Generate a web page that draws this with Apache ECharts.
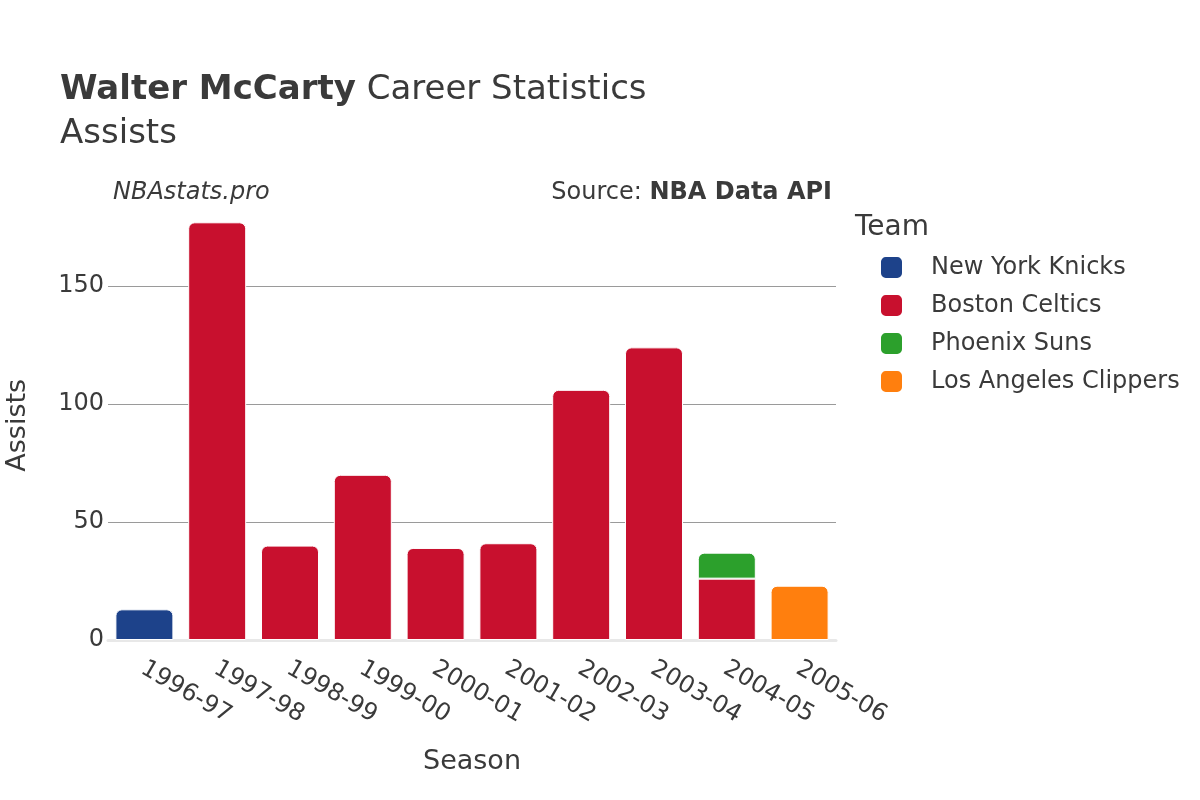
<!DOCTYPE html>
<html><head><meta charset="utf-8">
<script src="https://cdn.jsdelivr.net/npm/echarts@6/dist/echarts.min.js"></script>
<style>html,body{margin:0;padding:0;background:#fff}#c{width:1200px;height:800px}</style>
</head><body><div id="c"></div>
<script>
const seasons = ['1996-97','1997-98','1998-99','1999-00','2000-01','2001-02','2002-03','2003-04','2004-05','2005-06'];
const knicks   = [13, null, null, null, null, null, null, null, null, null];
const celtics  = [null, 177, 40, 70, 39, 41, 106, 124, 26, null];
const suns     = [null, null, null, null, null, null, null, null, 11, null];
const clippers = [null, null, null, null, null, null, null, null, null, 23];
const teamNames = ['New York Knicks','Boston Celtics','Phoenix Suns','Los Angeles Clippers'];
const teamColors = ['#1d428a','#c8102e','#2ca02c','#ff7f0e'];
const yTicks = [0, 50, 100, 150];

const font = 'DejaVu Sans';
const txt = '#3a3a3a';
const chart = echarts.init(document.getElementById('c'), null, {renderer:'canvas'});

function mk(name, arr, color, idx){
  const s = {
    name, type:'bar', stack:'s', barWidth: 58,
    data: arr.map((v,i)=>{
      if (v==null) return null;
      let r = [6,6,0,0];
      if (idx===1 && suns[i]!=null) r = [0,0,0,0];
      return {value:v, itemStyle:{borderRadius:r}};
    }),
    itemStyle:{color, borderColor:'#fff', borderWidth:1}
  };
  if (idx===0) {
    s.markLine = {
      silent:true, symbol:'none', label:{show:false}, z:0,
      lineStyle:{color:'#9a9a9a', width:1, type:'solid'},
      data: yTicks.filter(v=>v>0).map(v=>({yAxis:v}))
    };
  }
  return s;
}

chart.setOption({
  animation:false,
  textStyle:{fontFamily:font},
  title:[
    {text:'{b|Walter McCarty}{n| Career Statistics}', left:60, top:73, padding:0,
     textStyle:{rich:{b:{fontFamily:font,fontWeight:'bold',fontSize:34,color:txt},n:{fontFamily:font,fontWeight:'normal',fontSize:34,color:txt}}}},
    {text:'Assists', left:60, top:117, padding:0, textStyle:{fontFamily:font,fontSize:34,fontWeight:'normal',color:txt}},
    {text:'NBAstats.pro', left:113, top:181, padding:0, textStyle:{fontFamily:font,fontSize:24,fontStyle:'italic',fontWeight:'normal',color:txt}},
    {text:'{n|Source: }{b|NBA Data API}', right:368, top:181, padding:0,
     textStyle:{rich:{n:{fontFamily:font,fontSize:24,fontWeight:'normal',color:txt},b:{fontFamily:font,fontSize:24,fontWeight:'bold',color:txt}}}},
    {text:'Team', left:855, top:214, padding:0, textStyle:{fontFamily:font,fontSize:28,fontWeight:'normal',color:txt}}
  ],
  legend:{
    orient:'vertical', left:879, top:255, padding:0, itemWidth:23, itemHeight:23, itemGap:13,
    icon:'roundRect', data:teamNames,
    textStyle:{fontFamily:font,fontSize:24,lineHeight:23,color:txt,padding:[0,0,0,23]}
  },
  grid:{left:108, right:364, top:210.5, bottom:160, outerBoundsMode:'none', containLabel:false},
  xAxis:{
    type:'category', data:seasons, name:'Season', nameLocation:'middle', nameGap:108,
    nameTextStyle:{fontFamily:font,fontSize:27,color:txt},
    axisTick:{show:false},
    axisLine:{lineStyle:{color:'#e8e8e8',width:3}},
    axisLabel:{rotate:-30, fontFamily:font, fontSize:24, color:txt, margin:14, align:'left', verticalAlign:'top', padding:[0,0,0,5]}
  },
  yAxis:{
    type:'value', min:0, max:182, interval:50,
    name:'Assists', nameLocation:'middle', nameGap:77,
    nameTextStyle:{fontFamily:font,fontSize:27,color:txt},
    axisLabel:{fontFamily:font,fontSize:24,color:txt,margin:4,
      formatter:v=>yTicks.includes(v)?String(v):''},
    axisTick:{show:false},
    axisLine:{show:false},
    splitLine:{show:false}
  },
  series:[
    mk(teamNames[0], knicks, teamColors[0], 0),
    mk(teamNames[1], celtics, teamColors[1], 1),
    mk(teamNames[2], suns, teamColors[2], 2),
    mk(teamNames[3], clippers, teamColors[3], 3)
  ]
});
</script></body></html>
